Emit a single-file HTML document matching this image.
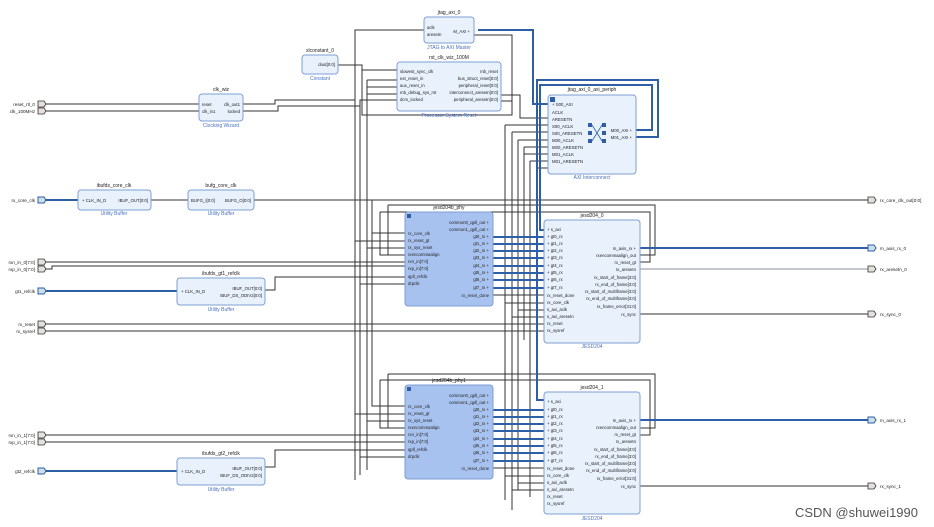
<!DOCTYPE html>
<html><head><meta charset="utf-8"><style>
html,body{margin:0;padding:0;background:#fff;}
svg{display:block;font-family:"Liberation Sans",sans-serif;}
.b{fill:#e8f1fc;stroke:#7f9fd3;stroke-width:1;}
.p{fill:#a8c2ef;stroke:#7f9fd3;stroke-width:1;}
.w{stroke:#333;stroke-width:1;fill:none;}
.g{stroke:#8a8f98;stroke-width:1;fill:none;}
.bus{stroke:#2d5ea6;stroke-width:2;fill:none;}
.t{font-size:4.3px;fill:#222;}
.tt{font-size:5px;fill:#222;text-anchor:middle;}
.st{font-size:5px;fill:#4a72c0;text-anchor:middle;}
.r{text-anchor:end;}
.port{fill:#e4e0dc;stroke:#333;stroke-width:.8;}
.bport{fill:#cde0e8;stroke:#2d5ea6;stroke-width:1;}
.pl{font-size:4.6px;fill:#222;}
</style></head><body>
<svg width="934" height="527" viewBox="0 0 934 527" xmlns="http://www.w3.org/2000/svg">

<!-- ===== long wires ===== -->
<g class="w">
<path d="M46 104H199M46 111H199"/>
<path d="M243 104H275V100H355V30H424"/>
<path d="M243 111H278V106H360V100H397"/>
<path d="M338 65H362V70H397"/>
<path d="M362 70V115H512V35H424"/>
<path d="M367 80H397M367 87H397M367 94H397"/>
<path d="M501 95H520V118H548M501 101H512"/>
<path d="M46 200H78M151 200H188M254 200H868"/>
<path d="M355 100V480M360 100V475M367 80V470"/>
<path d="M46 262H405M46 269H52V266H405"/>
<path d="M265 290H275V277H405"/>
<path d="M46 324H544M46 331H544"/>
<path d="M46 435H405M46 442H405"/>
<path d="M265 467H275V450H405"/>
<path d="M355 241H405M360 284H405M367 248H405"/>
<path d="M355 414H405M360 457H405M367 421H405"/>
<path d="M372 200V233H405M372 233V406H405"/>
<path d="M380 212V255H405M380 380V428H405"/>
<path d="M380 212H650V262H640M380 380H650V435H640"/>
<path d="M388 205H655V255H640M388 205V255M388 374H655V428H640M388 374V428"/>
<path d="M493 295H544M493 468H544"/>
<path d="M505 125H548M505 125V500M505 303H544M505 476H544"/>
<path d="M512 132H548M512 132V510M512 317H544M512 490H544"/>
<path d="M518 140H548M518 140V490M518 310H544M518 483H544"/>
<path d="M524 147H548M524 147V340M524 154H548M530 161H548M530 161V497"/>
<path d="M536 168H548"/>
<path d="M640 248H868M640 314H868M640 486H868"/>
<path d="M640 420H868"/>
</g>
<path class="g" d="M640 269H868"/>
<!-- buses -->
<g class="bus">
<path d="M46 200H78"/>
<path d="M46 291H177M46 471H177"/>
<path d="M478 30H533V104H548"/>
<path d="M636 130H652V85H540V230H544"/>
<path d="M636 137H658V80H537V400H544"/>
<path d="M640 248H868M640 420H868"/>
<path d="M493 237H544M493 244H544M493 251H544M493 258H544M493 266H544M493 273H544M493 280H544M493 288H544"/>
<path d="M493 410H544M493 417H544M493 424H544M493 431H544M493 439H544M493 446H544M493 453H544M493 461H544"/>
</g>

<!-- ===== external ports ===== -->
<g>
<path class="port" d="M38 101h6l2 3-2 3h-6z"/><path class="port" d="M38 108h6l2 3-2 3h-6z"/>
<text class="pl r" x="35" y="106" text-anchor="end">reset_rtl_0</text>
<text class="pl" x="35" y="113" text-anchor="end">clk_100MHz</text>
<path class="bport" d="M38 197h6l2 3-2 3h-6z"/><text class="pl" x="35" y="202" text-anchor="end">rx_core_clk</text>
<path class="port" d="M38 259h6l2 3-2 3h-6z"/><path class="port" d="M38 266h6l2 3-2 3h-6z"/>
<text class="pl" x="35" y="264" text-anchor="end">rxn_in_0[7:0]</text><text class="pl" x="35" y="271" text-anchor="end">rxp_in_0[7:0]</text>
<path class="bport" d="M38 288h6l2 3-2 3h-6z"/><text class="pl" x="35" y="293" text-anchor="end">gt1_refclk</text>
<path class="port" d="M38 321h6l2 3-2 3h-6z"/><path class="port" d="M38 328h6l2 3-2 3h-6z"/>
<text class="pl" x="35" y="326" text-anchor="end">rx_reset</text><text class="pl" x="35" y="333" text-anchor="end">rx_sysref</text>
<path class="port" d="M38 432h6l2 3-2 3h-6z"/><path class="port" d="M38 439h6l2 3-2 3h-6z"/>
<text class="pl" x="35" y="437" text-anchor="end">rxn_in_1[7:0]</text><text class="pl" x="35" y="444" text-anchor="end">rxp_in_1[7:0]</text>
<path class="bport" d="M38 468h6l2 3-2 3h-6z"/><text class="pl" x="35" y="473" text-anchor="end">gt2_refclk</text>

<path class="port" d="M868 197h6l2 3-2 3h-6z"/><text class="pl" x="880" y="202">rx_core_clk_out[0:0]</text>
<path class="bport" d="M868 245h6l2 3-2 3h-6z"/><text class="pl" x="880" y="250">m_axis_rx_0</text>
<path class="port" d="M868 266h6l2 3-2 3h-6z"/><text class="pl" x="880" y="271">rx_aresetn_0</text>
<path class="port" d="M868 311h6l2 3-2 3h-6z"/><text class="pl" x="880" y="316">rx_sync_0</text>
<path class="bport" d="M868 417h6l2 3-2 3h-6z"/><text class="pl" x="880" y="422">m_axis_rx_1</text>
<path class="port" d="M868 483h6l2 3-2 3h-6z"/><text class="pl" x="880" y="488">rx_sync_1</text>
</g>

<!-- ===== clk_wiz ===== -->
<text class="tt" x="221" y="91">clk_wiz</text>
<rect class="b" x="199" y="94" width="44" height="27" rx="3"/>
<text class="t" x="202" y="106">reset</text><text class="t" x="202" y="113">clk_in1</text>
<text class="t r" x="240" y="106" text-anchor="end">clk_out1</text><text class="t" x="240" y="113" text-anchor="end">locked</text>
<text class="st" x="221" y="127">Clocking Wizard</text>

<!-- xlconstant -->
<text class="tt" x="320" y="52">xlconstant_0</text>
<rect class="b" x="302" y="55" width="36" height="19" rx="3"/>
<text class="t" x="335" y="66" text-anchor="end">dout[0:0]</text>
<text class="st" x="320" y="80">Constant</text>

<!-- jtag_axi_0 -->
<text class="tt" x="449" y="14">jtag_axi_0</text>
<rect class="b" x="424" y="17" width="50" height="26" rx="3"/>
<text class="t" x="427" y="29">aclk</text><text class="t" x="427" y="36">aresetn</text>
<text class="t" x="470" y="33" text-anchor="end">M_AXI +</text>
<text class="st" x="449" y="49">JTAG to AXI Master</text>

<!-- rst_clk_wiz_100M -->
<text class="tt" x="449" y="59">rst_clk_wiz_100M</text>
<rect class="b" x="397" y="62" width="104" height="49" rx="3"/>
<g class="t">
<text x="400" y="73">slowest_sync_clk</text><text x="400" y="80">ext_reset_in</text><text x="400" y="87">aux_reset_in</text><text x="400" y="94">mb_debug_sys_rst</text><text x="400" y="101">dcm_locked</text>
<text x="498" y="73" text-anchor="end">mb_reset</text><text x="498" y="80" text-anchor="end">bus_struct_reset[0:0]</text><text x="498" y="87" text-anchor="end">peripheral_reset[0:0]</text><text x="498" y="94" text-anchor="end">interconnect_aresetn[0:0]</text><text x="498" y="101" text-anchor="end">peripheral_aresetn[0:0]</text>
</g>
<text class="st" x="449" y="117">Processor System Reset</text>

<!-- axi interconnect -->
<text class="tt" x="592" y="91">jtag_axi_0_axi_periph</text>
<rect class="b" x="548" y="95" width="88" height="79" rx="3"/>
<rect x="550" y="97" width="5" height="5" fill="#2d5ea6"/>
<g class="t">
<text x="552" y="106">+ S00_AXI</text><text x="552" y="114">ACLK</text><text x="552" y="121">ARESETN</text><text x="552" y="128">S00_ACLK</text><text x="552" y="135">S00_ARESETN</text><text x="552" y="142">M00_ACLK</text><text x="552" y="149">M00_ARESETN</text><text x="552" y="156">M01_ACLK</text><text x="552" y="163">M01_ARESETN</text>
<text x="632" y="132" text-anchor="end">M00_AXI +</text><text x="632" y="139" text-anchor="end">M01_AXI +</text>
</g>
<g fill="#2d5ea6"><rect x="588" y="123" width="4" height="4"/><rect x="602" y="123" width="4" height="4"/><rect x="588" y="131" width="4" height="4"/><rect x="602" y="131" width="4" height="4"/><rect x="588" y="139" width="4" height="4"/><rect x="602" y="139" width="4" height="4"/></g>
<path d="M592 125L602 141M602 125L592 141" stroke="#2d5ea6" stroke-width=".8"/>
<text class="st" x="592" y="179">AXI Interconnect</text>

<!-- ibufds_core_clk / bufg -->
<text class="tt" x="114" y="187">ibufds_core_clk</text>
<rect class="b" x="78" y="190" width="73" height="20" rx="3"/>
<text class="t" x="82" y="202">+ CLK_IN_D</text><text class="t" x="148" y="202" text-anchor="end">IBUF_OUT[0:0]</text>
<text class="st" x="114" y="215">Utility Buffer</text>
<text class="tt" x="221" y="187">bufg_core_clk</text>
<rect class="b" x="188" y="190" width="66" height="20" rx="3"/>
<text class="t" x="191" y="202">BUFG_I[0:0]</text><text class="t" x="251" y="202" text-anchor="end">BUFG_O[0:0]</text>
<text class="st" x="221" y="215">Utility Buffer</text>

<!-- ibufds gt1 / gt2 -->
<text class="tt" x="221" y="275">ibufds_gt1_refclk</text>
<rect class="b" x="177" y="278" width="88" height="27" rx="3"/>
<text class="t" x="181" y="293">+ CLK_IN_D</text><text class="t" x="262" y="290" text-anchor="end">IBUF_OUT[0:0]</text><text class="t" x="262" y="297" text-anchor="end">IBUF_DS_ODIV2[0:0]</text>
<text class="st" x="221" y="311">Utility Buffer</text>
<text class="tt" x="221" y="455">ibufds_gt2_refclk</text>
<rect class="b" x="177" y="458" width="88" height="27" rx="3"/>
<text class="t" x="181" y="473">+ CLK_IN_D</text><text class="t" x="262" y="470" text-anchor="end">IBUF_OUT[0:0]</text><text class="t" x="262" y="477" text-anchor="end">IBUF_DS_ODIV2[0:0]</text>
<text class="st" x="221" y="491">Utility Buffer</text>

<!-- phy 0 -->
<text class="tt" x="449" y="209">jesd204b_phy</text>
<rect class="p" x="405" y="212" width="88" height="94" rx="3"/>
<rect x="407" y="214" width="4" height="4" fill="#2d5ea6"/>
<g class="t">
<text x="408" y="235">rx_core_clk</text><text x="408" y="242">rx_reset_gt</text><text x="408" y="249">rx_sys_reset</text><text x="408" y="256">rxencommaalign</text><text x="408" y="263">rxn_in[7:0]</text><text x="408" y="270">rxp_in[7:0]</text><text x="408" y="278">qpll_refclk</text><text x="408" y="285">drpclk</text>
<text x="489" y="224" text-anchor="end">common0_qpll_out +</text><text x="489" y="231" text-anchor="end">common1_qpll_out +</text>
<text x="489" y="238" text-anchor="end">gt0_rx +</text><text x="489" y="245" text-anchor="end">gt1_rx +</text><text x="489" y="252" text-anchor="end">gt2_rx +</text><text x="489" y="259" text-anchor="end">gt3_rx +</text><text x="489" y="267" text-anchor="end">gt4_rx +</text><text x="489" y="274" text-anchor="end">gt5_rx +</text><text x="489" y="281" text-anchor="end">gt6_rx +</text><text x="489" y="289" text-anchor="end">gt7_rx +</text><text x="489" y="297" text-anchor="end">rx_reset_done</text>
</g>
<!-- jesd204_0 -->
<text class="tt" x="592" y="217">jesd204_0</text>
<rect class="b" x="544" y="220" width="96" height="123" rx="3"/>
<g class="t">
<text x="547" y="231">+ s_axi</text><text x="547" y="238">+ gt0_rx</text><text x="547" y="245">+ gt1_rx</text><text x="547" y="252">+ gt2_rx</text><text x="547" y="259">+ gt3_rx</text><text x="547" y="267">+ gt4_rx</text><text x="547" y="274">+ gt5_rx</text><text x="547" y="281">+ gt6_rx</text><text x="547" y="289">+ gt7_rx</text>
<text x="547" y="297">rx_reset_done</text><text x="547" y="304">rx_core_clk</text><text x="547" y="311">s_axi_aclk</text><text x="547" y="318">s_axi_aresetn</text><text x="547" y="325">rx_reset</text><text x="547" y="332">rx_sysref</text>
<text x="636" y="250" text-anchor="end">m_axis_rx +</text><text x="636" y="257" text-anchor="end">rxencommaalign_out</text><text x="636" y="264" text-anchor="end">rx_reset_gt</text><text x="636" y="271" text-anchor="end">rx_aresetn</text><text x="636" y="279" text-anchor="end">rx_start_of_frame[3:0]</text><text x="636" y="286" text-anchor="end">rx_end_of_frame[3:0]</text><text x="636" y="293" text-anchor="end">rx_start_of_multiframe[3:0]</text><text x="636" y="300" text-anchor="end">rx_end_of_multiframe[3:0]</text><text x="636" y="308" text-anchor="end">rx_frame_error[31:0]</text><text x="636" y="316" text-anchor="end">rx_sync</text>
</g>
<text class="st" x="592" y="348">JESD204</text>

<!-- phy 1 -->
<text class="tt" x="449" y="382">jesd204b_phy1</text>
<rect class="p" x="405" y="385" width="88" height="94" rx="3"/>
<rect x="407" y="387" width="4" height="4" fill="#2d5ea6"/>
<g class="t">
<text x="408" y="408">rx_core_clk</text><text x="408" y="415">rx_reset_gt</text><text x="408" y="422">rx_sys_reset</text><text x="408" y="429">rxencommaalign</text><text x="408" y="436">rxn_in[7:0]</text><text x="408" y="443">rxp_in[7:0]</text><text x="408" y="451">qpll_refclk</text><text x="408" y="458">drpclk</text>
<text x="489" y="397" text-anchor="end">common0_qpll_out +</text><text x="489" y="404" text-anchor="end">common1_qpll_out +</text>
<text x="489" y="411" text-anchor="end">gt0_rx +</text><text x="489" y="418" text-anchor="end">gt1_rx +</text><text x="489" y="425" text-anchor="end">gt2_rx +</text><text x="489" y="432" text-anchor="end">gt3_rx +</text><text x="489" y="440" text-anchor="end">gt4_rx +</text><text x="489" y="447" text-anchor="end">gt5_rx +</text><text x="489" y="454" text-anchor="end">gt6_rx +</text><text x="489" y="462" text-anchor="end">gt7_rx +</text><text x="489" y="470" text-anchor="end">rx_reset_done</text>
</g>
<!-- jesd204_1 -->
<text class="tt" x="592" y="389">jesd204_1</text>
<rect class="b" x="544" y="392" width="96" height="122" rx="3"/>
<g class="t">
<text x="547" y="403">+ s_axi</text><text x="547" y="411">+ gt0_rx</text><text x="547" y="418">+ gt1_rx</text><text x="547" y="425">+ gt2_rx</text><text x="547" y="432">+ gt3_rx</text><text x="547" y="440">+ gt4_rx</text><text x="547" y="447">+ gt5_rx</text><text x="547" y="454">+ gt6_rx</text><text x="547" y="462">+ gt7_rx</text>
<text x="547" y="470">rx_reset_done</text><text x="547" y="477">rx_core_clk</text><text x="547" y="484">s_axi_aclk</text><text x="547" y="491">s_axi_aresetn</text><text x="547" y="498">rx_reset</text><text x="547" y="505">rx_sysref</text>
<text x="636" y="422" text-anchor="end">m_axis_rx +</text><text x="636" y="429" text-anchor="end">rxencommaalign_out</text><text x="636" y="436" text-anchor="end">rx_reset_gt</text><text x="636" y="443" text-anchor="end">rx_aresetn</text><text x="636" y="451" text-anchor="end">rx_start_of_frame[3:0]</text><text x="636" y="458" text-anchor="end">rx_end_of_frame[3:0]</text><text x="636" y="465" text-anchor="end">rx_start_of_multiframe[3:0]</text><text x="636" y="472" text-anchor="end">rx_end_of_multiframe[3:0]</text><text x="636" y="480" text-anchor="end">rx_frame_error[31:0]</text><text x="636" y="488" text-anchor="end">rx_sync</text>
</g>
<text class="st" x="592" y="520">JESD204</text>

<text x="918" y="517" text-anchor="end" font-size="13" fill="#555" font-family="Liberation Sans, Noto Sans CJK SC, sans-serif">CSDN @shuwei1990</text>
</svg>
</body></html>
